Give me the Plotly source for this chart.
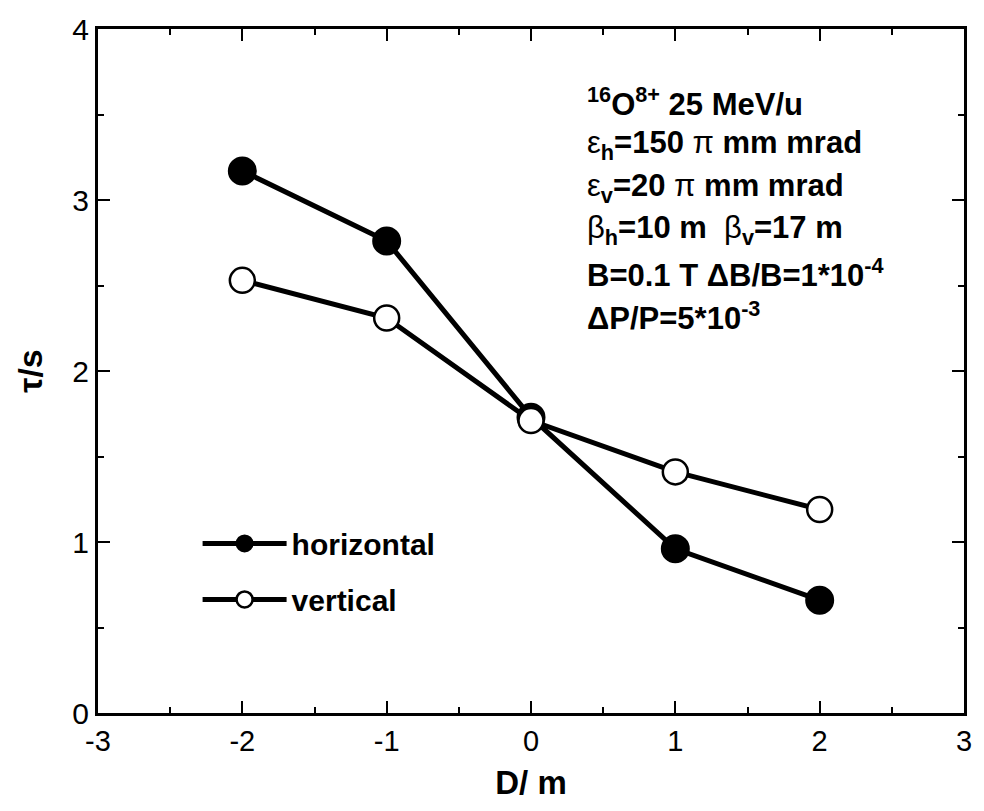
import plotly.graph_objects as go

D = [-2, -1, 0, 1, 2]
tau_horizontal = [3.17, 2.76, 1.73, 0.96, 0.66]
tau_vertical = [2.53, 2.31, 1.71, 1.41, 1.19]

x_ticks = [-3, -2, -1, 0, 1, 2, 3]
y_ticks = [0, 1, 2, 3, 4]

info_lines = [
    "<sup>16</sup>O<sup>8+</sup> 25 MeV/u",
    "<span style='font-weight:normal'>ε</span><sub>h</sub>=150 <span style='font-weight:normal'>π</span> mm mrad",
    "<span style='font-weight:normal'>ε</span><sub>v</sub>=20 <span style='font-weight:normal'>π</span> mm mrad",
    "<span style='font-weight:normal'>β</span><sub>h</sub>=10 m  <span style='font-weight:normal'>β</span><sub>v</sub>=17 m",
    "B=0.1 T ΔB/B=1*10<sup>-4</sup>",
    "ΔP/P=5*10<sup>-3</sup>",
]

FONT = "Liberation Sans, Arial, sans-serif"

fig = go.Figure()
fig.add_trace(go.Scatter(
    x=D, y=tau_horizontal, mode="lines+markers", name="<b>horizontal</b>",
    legendgroup="h",
    line=dict(color="black", width=5),
    marker=dict(symbol="circle", size=27, color="black",
                line=dict(color="black", width=2)),
))
fig.add_trace(go.Scatter(
    x=D, y=tau_vertical, mode="lines+markers", name="<b>vertical</b>",
    legendgroup="v",
    line=dict(color="black", width=5),
    marker=dict(symbol="circle", size=25, color="white",
                line=dict(color="black", width=2.5)),
))

for i, t in enumerate(info_lines):
    fig.add_annotation(
        x=0.562, y=0.893 - i * 0.0625, xref="paper", yref="paper",
        xanchor="left", yanchor="middle", showarrow=False,
        text="<b>" + t + "</b>",
        font=dict(family=FONT, size=31, color="black"),
    )

fig.update_layout(
    width=984, height=811,
    margin=dict(l=98, r=14, t=27, b=98),
    paper_bgcolor="white", plot_bgcolor="white",
    showlegend=True,
    legend=dict(
        x=0.115, y=0.207, xanchor="left", yanchor="middle",
        bgcolor="rgba(0,0,0,0)", tracegroupgap=14,
        font=dict(family=FONT, size=30, color="black"),
        itemwidth=84,
    ),
    font=dict(family=FONT, color="black"),
)

fig.update_xaxes(
    range=[-3, 3], tickvals=x_ticks, ticktext=[str(v) for v in x_ticks],
    ticks="inside", ticklen=12, tickwidth=2, tickcolor="black",
    minor=dict(dtick=0.5, ticks="inside", ticklen=6, tickwidth=2, tickcolor="black"),
    showline=True, linecolor="black", linewidth=3, mirror="ticks",
    showgrid=False, zeroline=False,
    tickfont=dict(family=FONT, size=29, color="black"),
    title=dict(text="<b>D/ m</b>", font=dict(family=FONT, size=33, color="black"), standoff=16),
)
fig.update_yaxes(
    range=[0, 4], tickvals=y_ticks, ticktext=[str(v) for v in y_ticks],
    ticks="inside", ticklen=12, tickwidth=2, tickcolor="black",
    minor=dict(dtick=0.5, ticks="inside", ticklen=6, tickwidth=2, tickcolor="black"),
    showline=True, linecolor="black", linewidth=3, mirror="ticks",
    showgrid=False, zeroline=False,
    tickfont=dict(family=FONT, size=30, color="black"),
    title=dict(text="<b>τ/s</b>", font=dict(family=FONT, size=34, color="black"), standoff=20),
)

fig.write_html("out.html")
